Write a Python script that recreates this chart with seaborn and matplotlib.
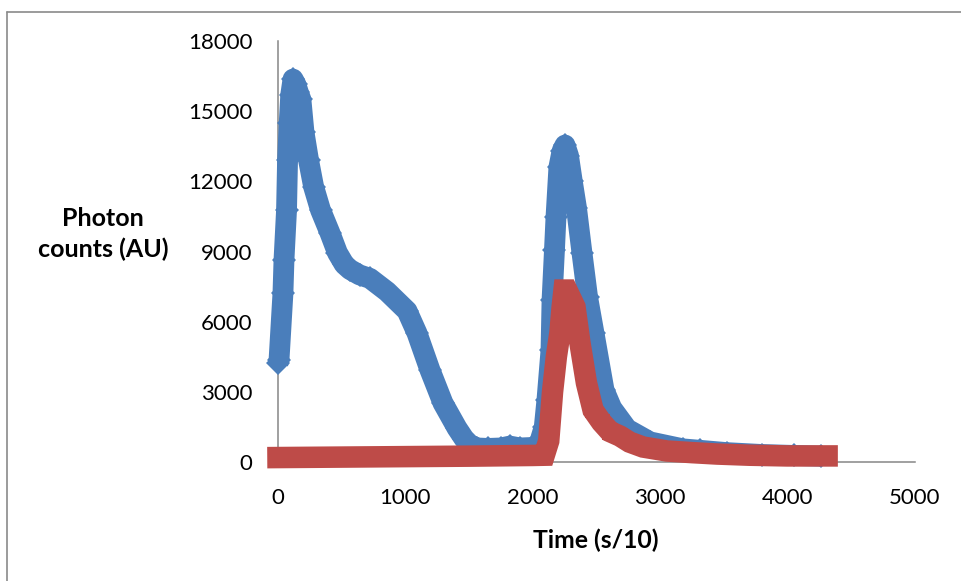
import matplotlib
matplotlib.use("Agg")
import matplotlib.pyplot as plt
import numpy as np
import pandas as pd
import seaborn as sns
from matplotlib.lines import Line2D

# ---- data ----
blue_x = [0, 8, 39, 47, 67, 75, 88, 100, 118, 140, 160, 180, 204, 240, 280, 334,
          408, 467, 520, 565, 640, 722, 856, 1013, 1091, 1193, 1295, 1405, 1460,
          1510, 1560, 1650, 1750, 1820, 1900, 1990, 2040, 2090, 2111, 2143, 2151,
          2170, 2182, 2205, 2230, 2253, 2280, 2310, 2343, 2386, 2430, 2480, 2559,
          2620, 2740, 2920, 3180, 3312, 3524, 3800, 4050, 4260]
blue_y = [4230, 4360, 7230, 8640, 10770, 12910, 14500, 15700, 16370, 16150, 15800,
          15500, 14100, 12900, 11760, 10770, 9790, 8940, 8450, 8230, 8000, 7850,
          7290, 6460, 5510, 3930, 2520, 1450, 1000, 720, 600, 580, 600, 680, 600,
          620, 600, 1500, 2650, 4790, 6930, 9060, 10470, 12610, 13300, 13550,
          13100, 12000, 10860, 8940, 7050, 5520, 3080, 2300, 1410, 860, 560, 500,
          400, 320, 280, 250]

red_x = [0, 500, 1000, 1500, 2000, 2090, 2125, 2155, 2185, 2213, 2230, 2245, 2268,
         2331, 2370, 2421, 2473, 2540, 2606, 2684, 2760, 2865, 3053, 3250, 3446,
         3700, 3995, 4310]
red_y = [190, 210, 230, 250, 280, 290, 900, 3000, 4500, 5520, 6600, 7350, 7350,
         6630, 5090, 3380, 2220, 1700, 1300, 1110, 850, 640, 470, 400, 340, 290,
         260, 260]

x_ticks = [0, 1000, 2000, 3000, 4000, 5000]
y_ticks = [0, 3000, 6000, 9000, 12000, 15000, 18000]
x_label = "Time (s/10)"
y_label = "Photon\ncounts (AU)"

BLUE = "#4A7EBB"
RED = "#BE4B48"
GRAY = "#868686"

sns.set_theme(style="white")
plt.rcParams["font.family"] = ["Lato", "DejaVu Sans"]

W, H = 961, 581
fig = plt.figure(figsize=(W / 100, H / 100), dpi=100)
ax = fig.add_axes([278 / W, 1 - 462 / H, (915 - 278) / W, (462 - 41) / H])

blue_df = pd.DataFrame({"t": blue_x, "c": blue_y})
red_df = pd.DataFrame({"t": red_x, "c": red_y})

common = dict(sort=False, estimator=None, markeredgewidth=0, clip_on=False,
              zorder=3, ax=ax, legend=False)
sns.lineplot(data=blue_df, x="t", y="c", color=BLUE, marker="D",
             linewidth=15, markersize=12.5, solid_joinstyle="round",
             solid_capstyle="butt", **common)
sns.lineplot(data=red_df, x="t", y="c", color=RED, marker="s",
             linewidth=15.5, markersize=11, solid_joinstyle="miter",
             solid_capstyle="projecting", **common)

ax.set_xlim(0, 5000)
ax.set_ylim(0, 18000)
ax.set_xticks(x_ticks)
ax.set_yticks(y_ticks)
ax.set_xticklabels([str(v) for v in x_ticks])
ax.set_yticklabels([str(v) for v in y_ticks])
ax.set_xlabel("")
ax.set_ylabel("")
ax.grid(False)
for s in ["top", "right"]:
    ax.spines[s].set_visible(False)
for s in ["left", "bottom"]:
    ax.spines[s].set_color(GRAY)
    ax.spines[s].set_linewidth(1.1)
    ax.spines[s].set_zorder(2)
ax.tick_params(axis="both", direction="inout", length=11, width=1.1,
               color=GRAY, labelsize=16, labelcolor="black", pad=13)

fig.text(596 / W, 1 - 540 / H, x_label, ha="center", va="center",
         fontsize=17.8, fontweight="bold", color="black")
fig.text(103 / W, 1 - 234 / H, y_label, ha="center", va="center",
         multialignment="center", linespacing=1.4,
         fontsize=18, fontweight="bold", color="black")

# chart frame (top and left edges visible)
fig.add_artist(Line2D([6.5 / W, 1.0], [1 - 11.5 / H, 1 - 11.5 / H],
                      transform=fig.transFigure, color="#8A8A8A", lw=1.2))
fig.add_artist(Line2D([6.5 / W, 6.5 / W], [1 - 11.5 / H, 0.0],
                      transform=fig.transFigure, color="#8A8A8A", lw=1.2))

fig.savefig("out.png", dpi=100, facecolor="white")
